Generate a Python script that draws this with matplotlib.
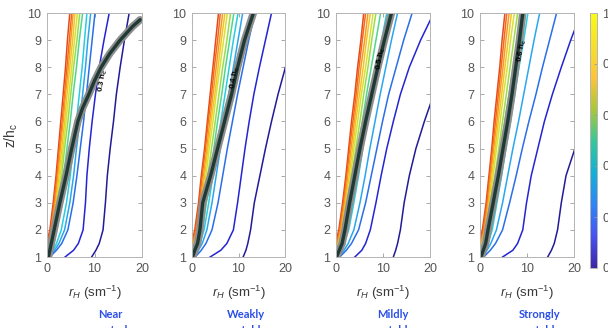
import matplotlib
matplotlib.use('Agg')
import matplotlib.pyplot as plt
import numpy as np
from matplotlib.colors import LinearSegmentedColormap, Normalize
from matplotlib.colorbar import ColorbarBase

plt.rcParams['font.family'] = ['Liberation Sans', 'DejaVu Sans']
plt.rcParams['mathtext.fontset'] = 'custom'
plt.rcParams['mathtext.rm'] = 'Liberation Sans'
plt.rcParams['mathtext.it'] = 'Liberation Sans:italic'
plt.rcParams['mathtext.bf'] = 'Liberation Sans:bold'

# heights (z/hc) at which the curves were read
z_levels = [1, 1.25, 1.5, 2, 3, 4, 5, 6, 7, 8, 9, 10]

# rH values of the 12 coloured curves per panel (left -> right)
near_neutral = [
    [-0.8, -0.5, -0.1, 0.6, 1.3, 1.9, 2.4, 2.9, 3.4, 3.9, 4.3, 4.8],
    [-0.6, -0.3, 0.1, 0.8, 1.5, 2.1, 2.6, 3.2, 3.7, 4.2, 4.7, 5.2],
    [-0.5, -0.1, 0.3, 0.9, 1.7, 2.3, 2.8, 3.4, 3.9, 4.5, 5.0, 5.5],
    [-0.3, 0.1, 0.5, 1.1, 1.9, 2.5, 3.1, 3.7, 4.2, 4.8, 5.4, 5.9],
    [-0.1, 0.3, 0.7, 1.3, 2.1, 2.8, 3.4, 4.0, 4.6, 5.2, 5.8, 6.4],
    [0.1, 0.5, 0.9, 1.6, 2.4, 3.1, 3.7, 4.4, 5.0, 5.6, 6.3, 6.9],
    [0.3, 0.9, 1.4, 2.1, 2.9, 3.5, 4.2, 4.9, 5.5, 6.2, 6.8, 7.5],
    [0.4, 1.3, 2.0, 3.0, 4.1, 4.9, 5.5, 6.2, 6.8, 7.4, 7.9, 8.4],
    [0.5, 1.6, 2.5, 3.7, 4.8, 5.6, 6.2, 6.9, 7.5, 8.1, 8.6, 9.2],
    [0.6, 2.0, 3.1, 4.4, 5.5, 6.3, 7.0, 7.7, 8.3, 8.9, 9.5, 10.1],
    [3.8, 5.6, 6.6, 7.6, 8.1, 8.4, 8.9, 9.5, 10.2, 11.0, 12.0, 13.1],
    [9.4, 10.3, 11.0, 11.8, 12.3, 12.7, 13.3, 14.0, 14.6, 15.4, 16.3, 17.3],
]
weakly_unstable = [
    [-0.8, -0.5, -0.1, 0.6, 1.4, 2.0, 2.7, 3.3, 3.9, 4.5, 5.1, 5.7],
    [-0.6, -0.3, 0.1, 0.8, 1.6, 2.2, 2.9, 3.5, 4.2, 4.8, 5.5, 6.1],
    [-0.4, -0.1, 0.3, 1.0, 1.8, 2.5, 3.2, 3.8, 4.5, 5.2, 5.9, 6.6],
    [-0.2, 0.1, 0.5, 1.2, 2.0, 2.7, 3.4, 4.1, 4.9, 5.6, 6.3, 7.1],
    [0.0, 0.4, 0.8, 1.5, 2.3, 3.0, 3.7, 4.5, 5.2, 6.0, 6.8, 7.6],
    [0.2, 0.7, 1.1, 1.8, 2.7, 3.4, 4.2, 5.0, 5.8, 6.6, 7.5, 8.3],
    [0.3, 0.9, 1.4, 2.2, 3.1, 3.9, 4.7, 5.5, 6.4, 7.2, 8.1, 9.0],
    [0.4, 1.1, 1.7, 2.6, 3.6, 4.5, 5.3, 6.2, 7.1, 8.0, 8.9, 9.9],
    [0.5, 1.4, 2.2, 3.2, 4.3, 5.2, 6.1, 7.0, 7.9, 8.9, 9.9, 10.9],
    [0.7, 2.0, 3.0, 4.3, 5.6, 6.6, 7.6, 8.7, 9.8, 11.0, 12.2, 13.5],
    [3.9, 6.2, 7.5, 8.9, 9.8, 10.6, 11.4, 12.3, 13.3, 14.5, 15.8, 17.1],
    [11.0, 11.6, 12.0, 12.6, 13.4, 14.6, 15.8, 17.1, 18.5, 20.1, 21.8, 23.5],
]
mildly_unstable = [
    [-0.9, -0.5, -0.1, 0.6, 1.4, 2.1, 2.7, 3.3, 4.0, 4.6, 5.3, 5.9],
    [-0.7, -0.3, 0.1, 0.8, 1.6, 2.3, 2.9, 3.6, 4.3, 4.9, 5.6, 6.3],
    [-0.5, -0.1, 0.3, 1.0, 1.8, 2.5, 3.2, 3.9, 4.6, 5.3, 6.1, 6.8],
    [-0.3, 0.1, 0.5, 1.2, 2.0, 2.8, 3.5, 4.2, 5.0, 5.8, 6.5, 7.3],
    [-0.1, 0.3, 0.7, 1.4, 2.3, 3.1, 3.8, 4.6, 5.4, 6.3, 7.1, 7.9],
    [0.1, 0.6, 1.0, 1.7, 2.6, 3.4, 4.2, 5.1, 5.9, 6.8, 7.6, 8.5],
    [0.2, 0.8, 1.3, 2.1, 3.0, 3.8, 4.7, 5.6, 6.5, 7.5, 8.5, 9.5],
    [0.4, 1.1, 1.7, 2.7, 3.8, 4.8, 5.7, 6.7, 7.7, 8.7, 9.7, 10.8],
    [0.6, 1.7, 2.6, 3.8, 5.1, 6.2, 7.2, 8.3, 9.4, 10.6, 11.8, 13.1],
    [0.8, 2.2, 3.3, 4.8, 6.3, 7.5, 8.7, 9.9, 11.2, 12.8, 14.4, 16.2],
    [4.0, 5.5, 6.3, 7.3, 8.5, 9.6, 10.8, 12.2, 13.7, 15.6, 18.0, 20.8],
    [12.2, 12.7, 13.1, 13.7, 14.5, 15.6, 17.0, 18.8, 20.8, 22.8, 24.8, 26.8],
]
strongly_unstable = [
    [-1.0, -0.6, -0.2, 0.5, 1.3, 1.9, 2.5, 3.0, 3.6, 4.2, 4.7, 5.3],
    [-0.8, -0.4, 0.0, 0.7, 1.5, 2.1, 2.7, 3.3, 3.9, 4.5, 5.1, 5.7],
    [-0.6, -0.2, 0.2, 0.9, 1.7, 2.3, 2.9, 3.6, 4.2, 4.9, 5.5, 6.2],
    [-0.4, 0.0, 0.4, 1.1, 1.9, 2.5, 3.2, 3.9, 4.6, 5.3, 6.0, 6.7],
    [-0.2, 0.2, 0.6, 1.3, 2.1, 2.8, 3.5, 4.3, 5.0, 5.8, 6.5, 7.3],
    [0.0, 0.5, 0.9, 1.6, 2.4, 3.2, 4.0, 4.8, 5.6, 6.4, 7.2, 8.0],
    [0.2, 0.8, 1.2, 2.0, 2.8, 3.6, 4.5, 5.3, 6.2, 7.1, 7.9, 8.8],
    [0.4, 1.1, 1.7, 2.6, 3.6, 4.6, 5.5, 6.5, 7.4, 8.3, 9.3, 10.2],
    [0.6, 1.5, 2.3, 3.5, 4.8, 5.9, 7.0, 8.2, 9.3, 10.4, 11.5, 12.7],
    [0.8, 2.2, 3.3, 4.8, 6.3, 7.7, 9.0, 10.4, 11.9, 13.3, 14.8, 16.3],
    [4.8, 7.0, 8.0, 9.1, 9.9, 10.9, 12.3, 13.7, 15.4, 17.3, 19.3, 21.5],
    [14.4, 15.2, 15.8, 16.5, 17.3, 18.3, 20.2, 22.2, 24.3, 26.4, 28.5, 30.6],
]

# thick marked curve (0.3 / 0.4 / 0.5 / 0.6 hc)
ref_z1 = [1, 1.5, 2, 2.5, 3, 4, 5, 6, 6.5, 7, 7.5, 8, 8.5, 9, 9.5, 9.75]
ref_x1 = [0.3, 0.9, 1.5, 2.1, 2.7, 4.0, 5.2, 6.5, 7.5, 8.8, 10.0, 11.4, 13.2, 15.4, 18.0, 19.6]
ref_x2 = [0.1, 0.6, 1.2, 1.7, 2.3, 4.0, 5.5, 7.0, 8.5, 9.8, 11.3, 13.2]
ref_x3 = [0.1, 0.7, 1.3, 1.9, 2.9, 4.0, 5.1, 6.3, 7.6, 8.9, 10.3, 11.8]
ref_x4 = [0.2, 0.7, 1.2, 1.7, 2.8, 3.9, 4.9, 5.9, 6.8, 7.6, 8.4, 9.1]

ref_labels = [r'0.3 h$_\mathbf{c}$', r'0.4 h$_\mathbf{c}$', r'0.5 h$_\mathbf{c}$', r'0.6 h$_\mathbf{c}$']
ref_label_pos = [(11.8, 7.5), (9.2, 7.6), (9.6, 8.3), (9.0, 8.6)]
regimes = ['Near\nneutral', 'Weakly\nunstable', 'Mildly\nunstable', 'Strongly\nunstable']

curve_colors = ['#e8481c', '#f26a1a', '#f89a22', '#f4c424', '#d8e030', '#9cdc48',
                '#50d68c', '#28cce0', '#2aa6f0', '#2a6ee8', '#2424d4', '#221a98']

parula = LinearSegmentedColormap.from_list('parula', [
    (0.2422, 0.1504, 0.6603), (0.2810, 0.3228, 0.9579), (0.1786, 0.5289, 0.9682),
    (0.0689, 0.6948, 0.8394), (0.2161, 0.7843, 0.5923), (0.6720, 0.7793, 0.2227),
    (0.9970, 0.7659, 0.2199), (0.9657, 0.8777, 0.1639), (0.9769, 0.9839, 0.0805)])

fig = plt.figure(figsize=(6.08, 3.28), dpi=100)

panels = [near_neutral, weakly_unstable, mildly_unstable, strongly_unstable]
ref_curves = [(ref_x1, ref_z1), (ref_x2, z_levels), (ref_x3, z_levels), (ref_x4, z_levels)]
lefts = [47, 192, 336, 480]
widths = [95, 93, 94, 94]
regime_x = [110, 246, 393, 540]

for i, curves in enumerate(panels):
    ax = fig.add_axes([lefts[i] / 608, 1 - 257 / 328, widths[i] / 608, 244 / 328])
    for c, col in zip(curves, curve_colors):
        ax.plot(c, z_levels, color=col, lw=1.1)
    gx, gz = ref_curves[i]
    ax.plot(gx, gz, color='#8e8e8e', lw=5.4, solid_capstyle='round')
    ax.plot(gx, gz, color='#1f3a34', lw=2.4, solid_capstyle='round')
    lx, lz = ref_label_pos[i]
    ax.text(lx, lz, ref_labels[i], rotation=80, fontsize=5.8, fontweight='bold',
            ha='center', va='center')

    ax.set_xlim(0, 20)
    ax.set_ylim(1, 10)
    ax.set_xticks([0, 10, 20])
    ax.set_yticks(range(1, 11))
    ax.tick_params(direction='in', top=True, right=True, length=3, width=0.6,
                   color='#9a9a9a', labelcolor='#555555', labelsize=9, pad=4)
    for s in ax.spines.values():
        s.set_color('#b4b4b4')
        s.set_linewidth(0.7)
    ax.set_xlabel(r'$r_H$ (sm$^{-1}$)', fontsize=9.5, color='#3a3a3a', labelpad=7)
    if i == 0:
        ax.set_ylabel(r'z/h$_{\mathregular{c}}$', fontsize=10, color='#3a3a3a', labelpad=5)
    fig.text(regime_x[i] / 608, 1 - 309 / 328, regimes[i], ha='center', va='top',
             fontsize=8, fontweight='bold', color='#2a4ee6', family='Lato',
             linespacing=1.55)

cax = fig.add_axes([590 / 608, 1 - 268 / 328, 7 / 608, 255 / 328])
cb = ColorbarBase(cax, cmap=parula, norm=Normalize(0, 1), orientation='vertical')
cb.set_ticks([0, 0.2, 0.4, 0.6, 0.8, 1])
cb.set_ticklabels(['0', '0.2', '0.4', '0.6', '0.8', '1'])
cb.ax.tick_params(direction='in', length=2, width=0.6, color='#9a9a9a',
                  labelcolor='#555555', labelsize=9, pad=4)
cb.outline.set_edgecolor('#b4b4b4')
cb.outline.set_linewidth(0.7)

fig.savefig('out.png', dpi=100)
